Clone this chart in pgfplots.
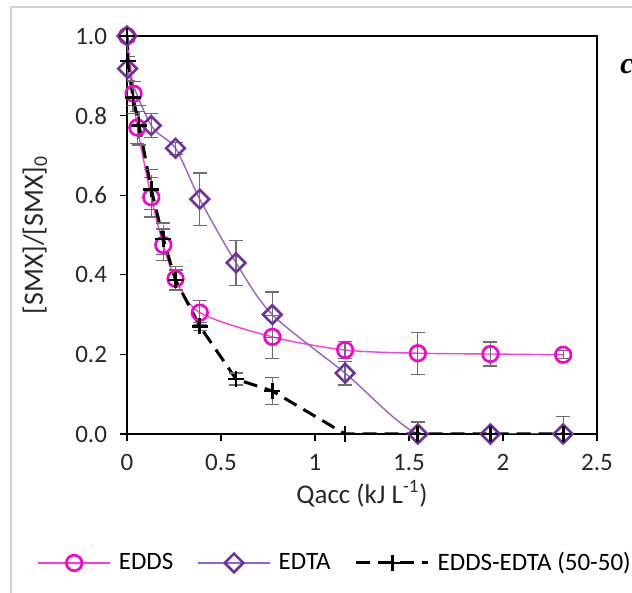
\documentclass[border=0pt]{standalone}
\usepackage{fontspec}
\setmainfont{Carlito}
\newfontfamily\serifit{Liberation Serif}
\usepackage{pgfplots}
\pgfplotsset{compat=1.18}
\definecolor{eddsc}{RGB}{255,0,204}
\definecolor{eddsl}{RGB}{255,60,215}
\definecolor{edtac}{RGB}{112,48,160}
\definecolor{edtal}{RGB}{150,100,200}
\definecolor{errc}{RGB}{110,110,110}
\definecolor{txt}{RGB}{40,40,40}
\begin{document}
\begin{tikzpicture}
\useasboundingbox (0,0) rectangle (316pt,296.5pt);
\draw[color={rgb,255:red,210;green,210;blue,210},line width=0.6pt] (5.5pt,-20pt) -- (5.5pt,293pt) -- (340pt,293pt);
\node[anchor=west,inner sep=0pt,font=\serifit\bfseries\itshape\fontsize{15}{17}\selectfont] at (310pt,263pt) {c};
\begin{axis}[
  at={(63.5pt,79.5pt)}, anchor=south west,
  width=235pt, height=199pt, scale only axis,
  xmin=0, xmax=2.5, ymin=0, ymax=1,
  xtick={0,0.5,1,1.5,2,2.5},
  xticklabels={0,0.5,1,1.5,2,2.5},
  ytick={0,0.2,0.4,0.6,0.8,1.0},
  yticklabels={0.0,0.2,0.4,0.6,0.8,1.0},
  tick pos=left, tick align=outside,
  major tick length=3.5pt,
  every tick/.style={black,line width=0.6pt},
  axis line style={black,line width=0.75pt},
  ticklabel style={font=\fontsize{12.5}{14}\selectfont, color=txt},
  yticklabel style={xshift=-3pt},
  xticklabel style={yshift=-3pt},
  xlabel={Qacc (kJ L\textsuperscript{-1})},
  ylabel={[SMX]/[SMX]\textsubscript{0}},
  every axis x label/.style={at={(axis description cs:0.5,0)},anchor=center,yshift=-30pt,font=\fontsize{13.5}{15}\selectfont,color=txt},
  every axis y label/.style={at={(axis description cs:0,0.5)},xshift=-46pt,rotate=90,anchor=center,font=\fontsize{14}{16}\selectfont,color=txt},
  clip=true,
  legend columns=3,
  legend style={at={(0.445,-0.324)}, anchor=center, draw=none, fill=none,
    font=\fontsize{12.5}{14}\selectfont, column sep=2pt,
    inner sep=0pt},
  legend image code/.code={\draw[mark repeat=2,mark phase=2,#1] plot coordinates {(0pt,0pt) (18pt,0pt) (36pt,0pt)};},
  error bars/error bar style={errc,line width=0.6pt},
  error bars/error mark options={rotate=90,mark size=3.5pt,errc,line width=0.6pt},
]
\addplot+[smooth, eddsl, line width=0.7pt, mark=o, mark size=3.9pt,
  mark options={eddsc,line width=1.3pt,solid,fill=none},
  error bars/.cd, y dir=both, y explicit]
  coordinates {
  (0,1.0) +- (0,0)
  (0.035,0.855) +- (0,0.03)
  (0.055,0.770) +- (0,0.04)
  (0.129,0.595) +- (0,0.05)
  (0.193,0.475) +- (0,0.04)
  (0.258,0.390) +- (0,0.03)
  (0.387,0.305) +- (0,0.03)
  (0.773,0.244) +- (0,0.054)
  (1.160,0.211) +- (0,0.022)
  (1.547,0.203) +- (0,0.053)
  (1.933,0.201) +- (0,0.03)
  (2.320,0.199) +- (0,0.01)
  };
\addlegendentry{EDDS\hspace*{8pt}}
\addplot+[smooth, edtal, line width=0.7pt, mark=square, mark size=3.3pt,
  mark options={edtac,line width=1.3pt,solid,fill=none,rotate=45},
  error bars/.cd, y dir=both, y explicit]
  coordinates {
  (0,1.0) +- (0,0)
  (0.003,0.918) +- (0,0.03)
  (0.129,0.775) +- (0,0.03)
  (0.258,0.718) +- (0,0.015)
  (0.387,0.590) +- (0,0.066)
  (0.580,0.430) +- (0,0.056)
  (0.773,0.300) +- (0,0.057)
  (1.160,0.153) +- (0,0.03)
  (1.547,0.0) +- (0,0.03)
  (1.933,0.0) +- (0,0.0)
  (2.320,0.0) +- (0,0.043)
  };
\addlegendentry{EDTA\hspace*{8pt}}
\addplot+[black, line width=1.5pt, dash pattern=on 7pt off 4pt, mark=+, mark size=4pt,
  mark options={black,line width=1.4pt,solid},
  error bars/.cd, y dir=both, y explicit]
  coordinates {
  (0,1.0) +- (0,0)
  (0.003,0.937) +- (0,0.05)
  (0.032,0.845) +- (0,0.04)
  (0.064,0.776) +- (0,0.05)
  (0.129,0.615) +- (0,0.05)
  (0.193,0.490) +- (0,0.04)
  (0.258,0.387) +- (0,0.025)
  (0.387,0.271) +- (0,0.01)
  (0.580,0.138) +- (0,0.015)
  (0.773,0.108) +- (0,0.033)
  (1.160,0.0) +- (0,0)
  (1.547,0.0) +- (0,0)
  (1.933,0.0) +- (0,0)
  (2.320,0.0) +- (0,0)
  };
\addlegendentry{EDDS-EDTA (50-50)}
\end{axis}
\end{tikzpicture}
\end{document}
